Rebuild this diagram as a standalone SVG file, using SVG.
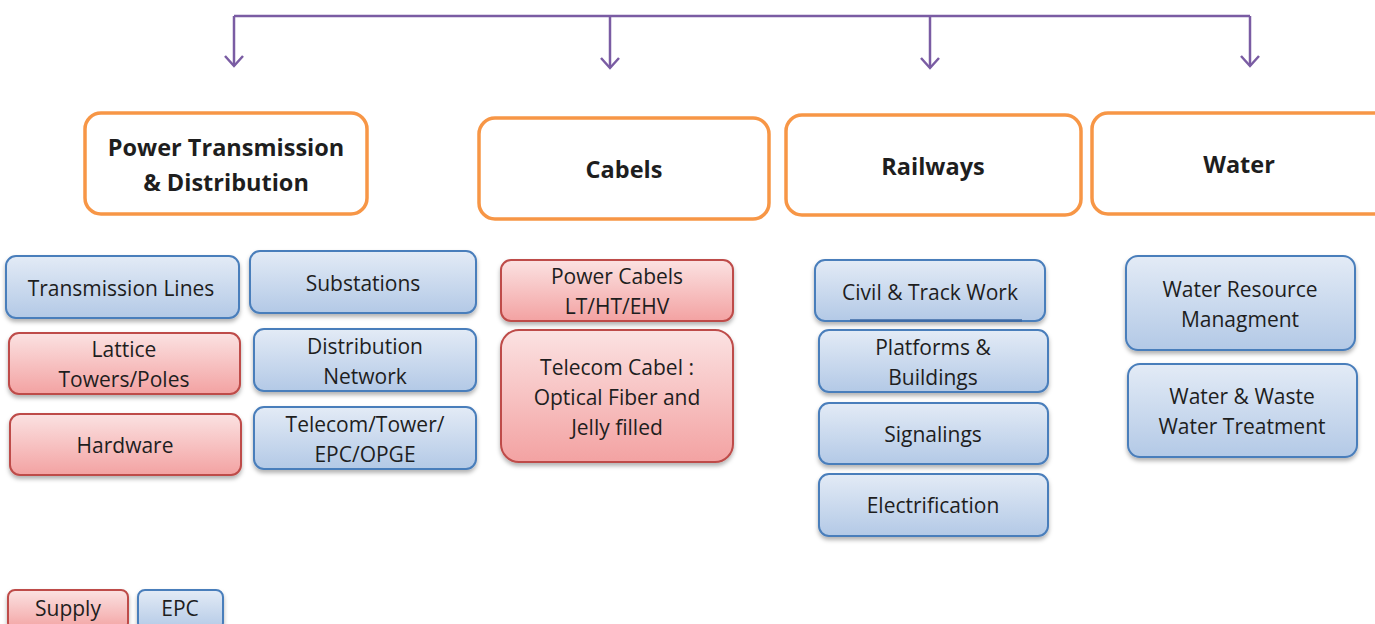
<svg xmlns="http://www.w3.org/2000/svg" width="1375" height="624" viewBox="0 0 1375 624">
<defs>
<linearGradient id="gb" x1="0" y1="0" x2="0" y2="1"><stop offset="0" stop-color="#e3ebf6"/><stop offset="1" stop-color="#b3c9e6"/></linearGradient>
<linearGradient id="gr" x1="0" y1="0" x2="0" y2="1"><stop offset="0" stop-color="#fbe2e2"/><stop offset="1" stop-color="#f3a2a2"/></linearGradient>
<filter id="sh" x="-10%" y="-10%" width="120%" height="130%"><feDropShadow dx="0" dy="3" stdDeviation="2" flood-color="#000" flood-opacity="0.3"/></filter>
<marker id="ar" viewBox="0 0 20 20" refX="18" refY="10" markerWidth="20" markerHeight="20" markerUnits="userSpaceOnUse" orient="auto"><path d="M8,1 L18,10 L8,19" fill="none" stroke="#7a5ca3" stroke-width="2.5"/></marker>
</defs>
<style>
.o{fill:#fff;stroke:#f79646;stroke-width:3.5}
.b{fill:url(#gb);stroke:#4a7ebb;stroke-width:2;filter:url(#sh)}
.r{fill:url(#gr);stroke:#be4b48;stroke-width:2;filter:url(#sh)}
text{font-family:"Open Sans","Liberation Sans",sans-serif;font-size:21px;fill:#1e1e1e;text-anchor:middle}
.h{font-weight:bold;font-size:23.5px}
.c{fill:none;stroke:#7a5ca3;stroke-width:2.5}
</style>
<g id="connectors">
<path class="c" d="M234,16 H1250"/>
<path class="c" d="M234,16 V66" marker-end="url(#ar)"/>
<path class="c" d="M610,16 V68" marker-end="url(#ar)"/>
<path class="c" d="M930,16 V68" marker-end="url(#ar)"/>
<path class="c" d="M1250,16 V66" marker-end="url(#ar)"/>
</g>
<g id="power"><rect class="o" x="85" y="113" width="282" height="101" rx="16"/><text class="h" x="226" y="156">Power Transmission</text><text class="h" x="226" y="191">&amp; Distribution</text></g>
<g id="cabels"><rect class="o" x="479" y="118" width="290" height="101" rx="16"/><text class="h" x="624" y="178">Cabels</text></g>
<g id="railways"><rect class="o" x="786" y="115" width="295" height="100" rx="16"/><text class="h" x="933" y="175">Railways</text></g>
<g id="water"><rect class="o" x="1092" y="113" width="300" height="101" rx="16"/><text class="h" x="1239" y="173">Water</text></g>

<g id="transmission-lines"><rect class="b" x="6" y="256" width="233" height="62" rx="10"/><text x="121" y="295.5">Transmission Lines</text></g>
<g id="lattice"><rect class="r" x="9" y="333" width="231" height="61" rx="10"/><text x="124" y="356.5">Lattice</text><text x="124" y="386.5">Towers/Poles</text></g>
<g id="hardware"><rect class="r" x="10" y="414" width="231" height="61" rx="10"/><text x="125" y="452.5">Hardware</text></g>
<g id="substations"><rect class="b" x="250" y="251" width="226" height="62" rx="10"/><text x="363" y="290.5">Substations</text></g>
<g id="distribution"><rect class="b" x="254" y="329" width="222" height="62" rx="10"/><text x="365" y="353.5">Distribution</text><text x="365" y="383.5">Network</text></g>
<g id="telecom-tower"><rect class="b" x="254" y="407" width="222" height="62" rx="10"/><text x="365" y="431.5">Telecom/Tower/</text><text x="365" y="461.5">EPC/OPGE</text></g>

<g id="power-cabels"><rect class="r" x="501" y="260" width="232" height="61" rx="10"/><text x="617" y="283.5">Power Cabels</text><text x="617" y="313.5">LT/HT/EHV</text></g>
<g id="telecom-cabel"><rect class="r" x="501" y="330" width="232" height="132" rx="18"/><text x="617" y="374.5">Telecom Cabel :</text><text x="617" y="404.5">Optical Fiber and</text><text x="617" y="434.5">Jelly filled</text></g>

<g id="civil"><rect class="b" x="815" y="260" width="230" height="61" rx="10"/><path d="M850,320.5 H1022" stroke="#3c6aa6" stroke-width="2.5"/><text x="930" y="299.5">Civil &amp; Track Work</text></g>
<g id="platforms"><rect class="b" x="819" y="330" width="229" height="62" rx="10"/><text x="933" y="354.5">Platforms &amp;</text><text x="933" y="384.5">Buildings</text></g>
<g id="signalings"><rect class="b" x="819" y="403" width="229" height="61" rx="10"/><text x="933" y="441.5">Signalings</text></g>
<g id="electrification"><rect class="b" x="819" y="474" width="229" height="62" rx="10"/><text x="933" y="512.5">Electrification</text></g>

<g id="water-resource"><rect class="b" x="1126" y="256" width="229" height="94" rx="12"/><text x="1240" y="296.5">Water Resource</text><text x="1240" y="326.5">Managment</text></g>
<g id="waste-water"><rect class="b" x="1128" y="364" width="229" height="93" rx="12"/><text x="1242" y="403.5">Water &amp; Waste</text><text x="1242" y="433.5">Water Treatment</text></g>

<g id="legend-supply"><rect class="r" x="8" y="590" width="120" height="40" rx="7"/><text x="68" y="615.5">Supply</text></g>
<g id="legend-epc"><rect class="b" x="138" y="590" width="85" height="40" rx="7"/><text x="180" y="615.5">EPC</text></g>
</svg>
